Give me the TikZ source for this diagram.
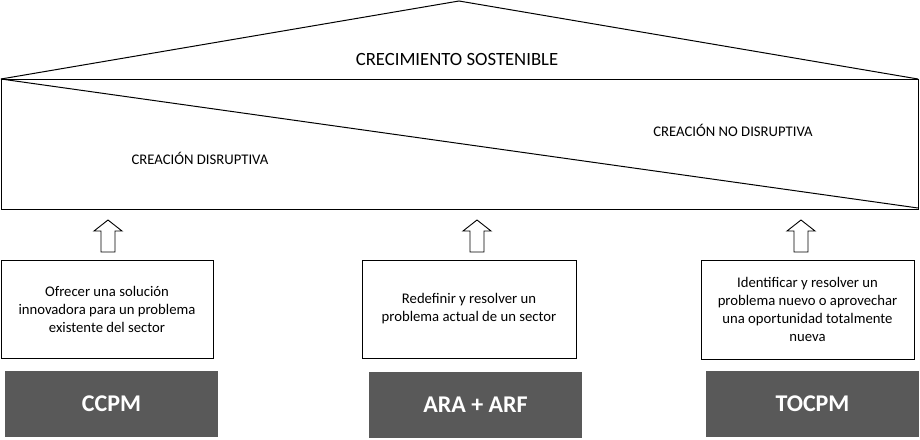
\documentclass[tikz,border=0pt]{standalone}
\usepackage{fontspec}
\setmainfont{Carlito}
\definecolor{dgray}{HTML}{595959}
\begin{document}
\begin{tikzpicture}[x=1pt,y=-1pt,line width=1pt,
  txtbox/.style={draw,minimum width=212,minimum height=98,align=center,inner sep=0pt,font=\fontsize{14.7}{18}\selectfont},
  graybox/.style={fill=dgray,text=white,minimum width=213,minimum height=66,inner sep=0pt,font=\fontsize{24}{28}\selectfont\bfseries},
  blockarrow/.style={draw,line width=0.9pt,line join=miter},
  lbl/.style={inner sep=0pt,font=\fontsize{14.7}{18}\selectfont}]
\useasboundingbox (0,0) rectangle (920,439);
% roof and main rectangle
\coordinate (L) at (1,79);
\coordinate (A) at (459,1);
\coordinate (R) at (918,79);
\coordinate (BR) at (918,209);
\coordinate (D) at (918,208);
\draw (L) -- (A) -- (R);
\draw (L) rectangle (BR);
\draw (L) -- (D);
\node[lbl,font=\fontsize{18.7}{22}\selectfont] (title) at (457,59) {CRECIMIENTO SOSTENIBLE};
\node[lbl] (dis) at (200,158) {CREACIÓN DISRUPTIVA};
\node[lbl] (nodis) at (733,130) {CREACIÓN NO DISRUPTIVA};
% text boxes
\node[txtbox] (b1) at (107,309) {Ofrecer una solución\\innovadora para un problema\\existente del sector};
\node[txtbox,minimum width=214] (b2) at (469,309) {Redefinir y resolver un\\problema actual de un sector};
\node[txtbox,minimum width=213,minimum height=99] (b3) at (807.5,309.5) {Identificar y resolver un\\problema nuevo o aprovechar\\una oportunidad totalmente\\nueva};
% gray boxes
\node[graybox] (g1) at (111.5,404) {CCPM};
\node[graybox] (g2) at (475.5,405) {ARA + ARF};
\node[graybox] (g3) at (812.5,404) {TOCPM};
% block arrows (tips)
\coordinate (t1) at (108,220);
\coordinate (t2) at (477,220);
\coordinate (t3) at (801,220);
\foreach \t in {t1,t2,t3}
  \draw[blockarrow] (\t) -- ++(14,11) -- ++(-7,0) -- ++(0,21) -- ++(-14,0) -- ++(0,-21) -- ++(-7,0) -- cycle;
\end{tikzpicture}
\end{document}
